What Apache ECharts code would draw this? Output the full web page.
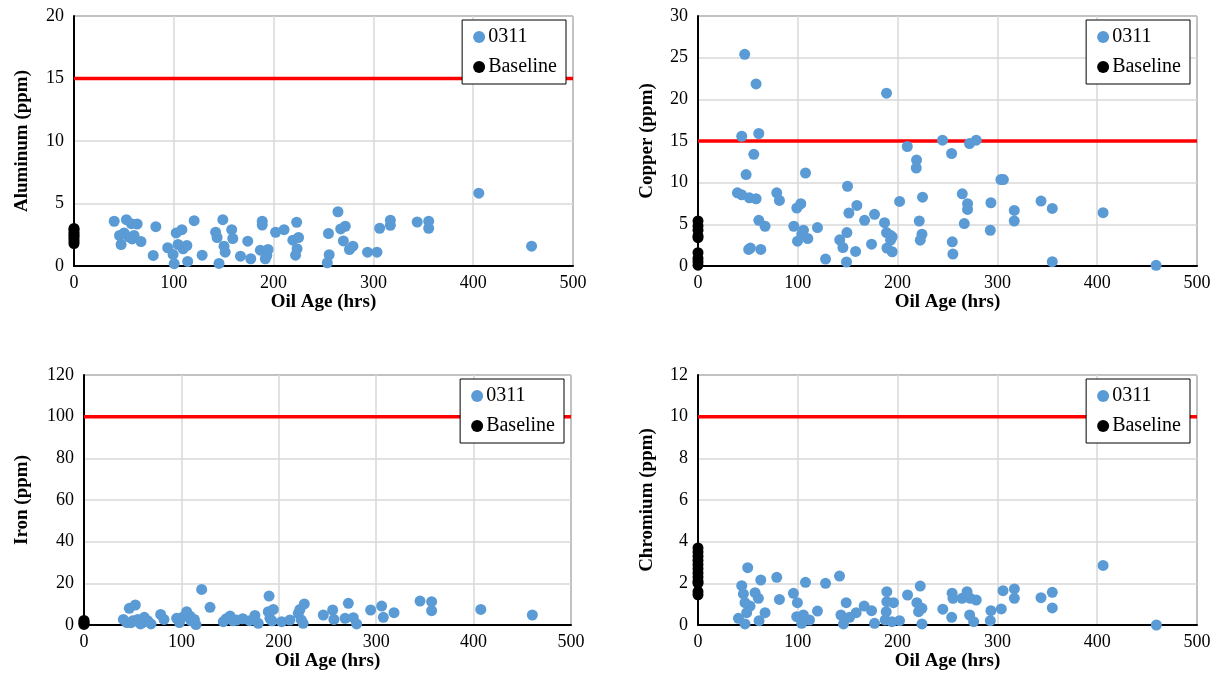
<!DOCTYPE html>
<html>
<head>
<meta charset="utf-8">
<script src="https://cdn.jsdelivr.net/npm/echarts@6/dist/echarts.min.js"></script>
<style>
html,body{margin:0;padding:0;background:#fff;}
#chart{width:1225px;height:698px;}
</style>
</head>
<body>
<div id="chart"></div>
<script>
// ---------------- DATA ----------------
var xTicks = [0, 100, 200, 300, 400, 500];
var yTitles = ['Aluminum (ppm)', 'Copper (ppm)', 'Iron (ppm)', 'Chromium (ppm)'];
var yMax = [20, 30, 120, 12];
var yInterval = [5, 5, 20, 2];
var limitValues = [15, 15, 100, 10];

var aluminum0311 = [
  [40.3,3.58],[52.5,3.71],[57.5,3.39],[63.3,3.36],[45.6,2.44],[50.2,2.65],[54.8,2.33],[60.2,2.44],
  [58.3,2.17],[47.2,1.72],[67.1,1.96],[82,3.15],[79.4,0.85],[93.9,1.46],[99.3,0.93],[100.4,0.19],
  [102.4,2.65],[108.1,2.91],[104.3,1.72],[109.3,1.38],[113.1,1.64],[113.9,0.37],[120.4,3.63],[128.4,0.87],
  [141.9,2.7],[143.4,2.28],[145.3,0.21],[149.1,3.71],[150.3,1.59],[151.5,1.11],[158,2.91],[159.1,2.2],
  [166.8,0.79],[174.1,1.99],[177.1,0.58],[188.6,3.58],[188.6,3.28],[186.7,1.27],[194.4,1.32],[191.7,0.58],
  [193.2,0.85],[202,2.7],[210.5,2.91],[223.1,3.5],[219.3,2.07],[225,2.28],[223.5,1.38],[222,0.87],
  [255,2.6],[255.7,0.9],[253.8,0.26],[264.5,4.34],[267.2,2.97],[271.8,3.18],[269.9,2.01],[276,1.32],
  [279.5,1.59],[294.1,1.11],[303.6,1.11],[306.3,3.02],[317,3.66],[317,3.26],[343.9,3.52],[355.4,3.58],
  [355.4,3.02],[405.6,5.83],[458.5,1.59]
];
var aluminumBaseline = [[0,1.8],[0,2.0],[0,2.2],[0,2.4],[0,2.5],[0,2.7],[0,2.9],[0,3.0]];

var copper0311 = [
  [46.8,25.4],[58.2,21.85],[43.8,15.57],[60.9,15.9],[55.9,13.4],[48.2,10.97],[39.5,8.78],[43.8,8.54],
  [51.5,8.18],[58.2,8.07],[78.9,8.78],[81.6,7.87],[60.9,5.48],[67.2,4.77],[50.8,1.99],[52.5,2.15],
  [62.9,1.99],[107.7,11.16],[99,6.95],[103,7.47],[96,4.77],[99.7,2.98],[105.7,4.29],[104,3.81],
  [110,3.3],[119.7,4.61],[127.8,0.83],[149.8,9.57],[142,3.14],[145.2,2.22],[149.2,4.01],[151.2,6.36],
  [148.8,0.48],[157.9,1.75],[159.2,7.27],[166.9,5.48],[173.9,2.62],[176.9,6.2],[188.9,20.74],[186.9,5.2],
  [188.9,4.01],[192.6,3.69],[194.6,3.5],[193,3.1],[189.3,2.15],[194.6,1.71],[202,7.75],[209.7,14.34],
  [219,12.71],[218.7,11.76],[225,8.26],[221.7,5.4],[224.4,3.81],[222.7,3.1],[245,15.1],[254.1,13.5],
  [254.8,2.9],[255.4,1.43],[272.1,14.7],[278.8,15.1],[303.5,10.37],[306,10.37],[264.8,8.66],[270.1,7.47],
  [270.1,6.79],[293.5,7.59],[266.8,5.09],[292.9,4.29],[316.9,6.67],[316.9,5.4],[343.7,7.79],[355,6.91],
  [405.9,6.4],[355,0.52],[459,0.08]
];
var copperBaseline = [[0,5.4],[0,4.8],[0,4.3],[0,3.6],[0,3.4],[0,1.6],[0,0.9],[0,0.5],[0,0.1]];

var iron0311 = [
  [40.4,2.7],[44,1.2],[46.5,8.0],[48.3,1.1],[50,2.0],[52.7,9.6],[55.1,2.7],[58,0.5],[60.2,1.1],
  [61.9,3.7],[65.4,2.1],[68.8,0.5],[78.7,5.1],[82.1,2.7],[95.1,3.2],[98,1.2],[102,4.0],[105.4,6.4],
  [108.8,4.3],[110,2.0],[113.3,2.7],[115,0.2],[120.8,17.1],[129.4,8.5],[143,1.6],[146,3.0],[150,4.3],
  [153,2.0],[156.7,2.4],[163,3.0],[170,2.1],[175.5,4.6],[178.9,0.8],[190,13.9],[189.2,6.4],[194.4,7.5],
  [190.9,3.2],[193,2.0],[202.9,1.6],[211.4,2.4],[226.2,10.1],[221.7,7.5],[220,5.6],[225,0.8],[223,2.5],
  [245.7,4.8],[255.3,7.2],[256.6,2.7],[271.4,10.4],[268,3.2],[276.5,3.5],[279.9,0.5],[294.3,7.2],
  [305.6,9.1],[307.3,3.7],[318.3,5.9],[345,11.5],[356.9,11.2],[356.9,6.9],[407.4,7.5],[460.3,4.8]
];
var ironBaseline = [[0,0.3],[0,0.8],[0,1.5],[0,2.2]];

var chromium0311 = [
  [49.8,2.75],[43.8,1.89],[45.5,1.49],[57.2,1.55],[60.5,1.28],[62.9,2.16],[78.9,2.29],[81.6,1.23],
  [47.1,1.07],[52.2,0.91],[48.8,0.59],[40.5,0.32],[47.1,0.05],[67.2,0.59],[61.2,0.21],[95.6,1.52],
  [99.6,1.07],[107.7,2.05],[98.9,0.4],[105.6,0.48],[103.9,0.08],[111.7,0.24],[119.7,0.67],[127.8,2.0],
  [141.8,2.35],[148.5,1.07],[143.2,0.48],[151.9,0.37],[145.8,0.05],[158.5,0.59],[166.5,0.91],[173.9,0.69],
  [176.9,0.08],[189.2,1.6],[189.2,1.12],[195.9,1.07],[188.6,0.64],[187.6,0.24],[194.3,0.16],[201.9,0.21],
  [210,1.44],[222.7,1.87],[219.3,1.07],[224.4,0.8],[221,0.64],[224.4,0.05],[245.3,0.76],[254.6,1.53],
  [255.5,1.28],[254.2,0.37],[269.6,1.6],[264.5,1.28],[272.9,1.28],[278.8,1.2],[272.2,0.48],[276.2,0.16],
  [293.5,0.69],[292.9,0.21],[303.9,0.77],[305.6,1.65],[317,1.73],[317,1.28],[343.7,1.31],[355,1.57],
  [355,0.82],[405.9,2.86],[459.3,0.0]
];
var chromiumBaseline = [[0,1.45],[0,1.6],[0,2.0],[0,2.1],[0,2.3],[0,2.5],[0,2.7],[0,2.9],[0,3.1],[0,3.3],[0,3.5],[0,3.7]];

var series0311 = [aluminum0311, copper0311, iron0311, chromium0311];
var seriesBaseline = [aluminumBaseline, copperBaseline, ironBaseline, chromiumBaseline];

// ---------------- LAYOUT ----------------
var FONT = 'Liberation Serif';
var grids = [
  {left: 74, top: 16, width: 499, height: 250},
  {left: 698, top: 16, width: 499, height: 250},
  {left: 84, top: 375, width: 487, height: 250},
  {left: 698, top: 375, width: 499, height: 250}
];
var yNameGaps = [42, 41, 52, 41];

var option = {
  animation: false,
  backgroundColor: '#fff',
  grid: grids.map(function (g) {
    return {left: g.left, top: g.top, width: g.width, height: g.height, show: true,
      borderColor: '#000', borderWidth: 1, backgroundColor: 'transparent'};
  }),
  xAxis: grids.map(function (g, i) {
    return {
      gridIndex: i, type: 'value', min: 0, max: 500, interval: 100,
      name: 'Oil Age (hrs)', nameLocation: 'middle', nameGap: 25,
      nameTextStyle: {fontFamily: FONT, fontWeight: 'bold', fontSize: 19, color: '#000'},
      axisLine: {show: true, onZero: false, lineStyle: {color: '#000', width: 2}},
      axisTick: {show: false},
      axisLabel: {fontFamily: FONT, fontSize: 18, color: '#000', margin: 8},
      splitLine: {show: true, lineStyle: {color: '#d9d9d9', width: 1.5}}
    };
  }),
  yAxis: grids.map(function (g, i) {
    return {
      gridIndex: i, type: 'value', min: 0, max: yMax[i], interval: yInterval[i],
      name: yTitles[i], nameLocation: 'middle', nameGap: yNameGaps[i], nameRotate: 90,
      nameTextStyle: {fontFamily: FONT, fontWeight: 'bold', fontSize: 19, color: '#000'},
      axisLine: {show: true, onZero: false, lineStyle: {color: '#000', width: 2}},
      axisTick: {show: false},
      axisLabel: {fontFamily: FONT, fontSize: 18, color: '#000', margin: 10},
      splitLine: {show: true, lineStyle: {color: '#d9d9d9', width: 1.5}}
    };
  }),
  legend: grids.map(function (g, i) {
    return {
      orient: 'vertical',
      right: 1225 - (g.left + g.width) + 7,
      top: g.top + 4,
      data: ['0311', 'Baseline'],
      icon: 'circle', itemWidth: 12, itemHeight: 12, itemGap: 10,
      padding: [7, 9, 7, 11],
      borderColor: '#000', borderWidth: 1, backgroundColor: '#fff',
      textStyle: {fontFamily: FONT, fontSize: 20, color: '#000', padding: [0, 0, 0, -2]}
    };
  }),
  series: []
};

for (var i = 0; i < 4; i++) {
  option.series.push({
    type: 'line', name: 'limit', xAxisIndex: i, yAxisIndex: i,
    data: [[0, limitValues[i]], [500, limitValues[i]]],
    showSymbol: false, symbol: 'none', silent: true, z: 1,
    lineStyle: {color: '#ff0000', width: 3.5}
  });
  option.series.push({
    type: 'scatter', name: '0311', xAxisIndex: i, yAxisIndex: i,
    data: series0311[i], symbolSize: 11, z: 3,
    itemStyle: {color: '#5B9BD5', opacity: 1}
  });
  option.series.push({
    type: 'scatter', name: 'Baseline', xAxisIndex: i, yAxisIndex: i,
    data: seriesBaseline[i], symbolSize: 11, z: 4, clip: false,
    itemStyle: {color: '#000', opacity: 1}
  });
}

var chart = echarts.init(document.getElementById('chart'), null, {renderer: 'canvas'});
chart.setOption(option);
</script>
</body>
</html>
